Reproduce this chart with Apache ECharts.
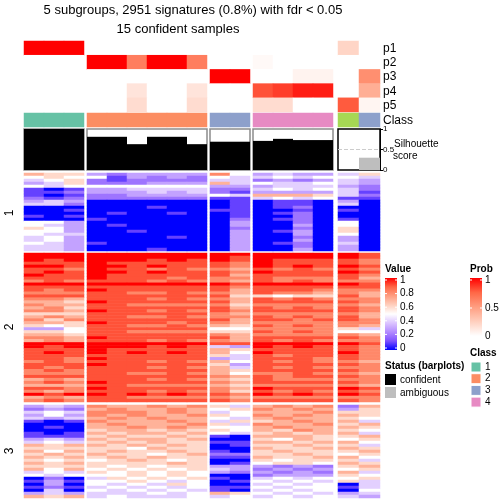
<!DOCTYPE html>
<html><head><meta charset="utf-8">
<script src="https://cdn.jsdelivr.net/npm/echarts/dist/echarts.min.js"></script>
<style>html,body{margin:0;padding:0;background:#fff}#c{width:504px;height:504px}</style>
</head><body><div id="c"></div><script>
// ---------------- data ----------------
const titleLine1 = '5 subgroups, 2951 signatures (0.8%) with fdr < 0.05';
const titleLine2 = '15 confident samples';
const groupSizes = [3, 6, 2, 4, 2];           // columns per column group (last = ambiguous)
const sampleClass = [1,1,1, 2,2,2,2,2,2, 3,3, 4,4,4,4, 5,3];
const probNames = ['p1','p2','p3','p4','p5'];
const p1 = [1,1,1, 0,0,0,0,0,0, 0,0, 0,0,0,0, 0.22,0];
const p2 = [0,0,0, 1,1,0.65,1,1,0.65, 0,0, 0.03,0,0,0, 0,0];
const p3 = [0,0,0, 0,0,0,0,0,0, 1,1, 0,0,0.06,0.06, 0,0.57];
const p4 = [0,0,0, 0,0,0.14,0,0,0.14, 0,0, 0.8,0.85,0.93,0.93, 0,0.42];
const p5 = [0,0,0, 0,0,0.18,0,0,0.18, 0,0, 0.18,0.18,0,0, 0.78,0.05];
const silhouette = [1,1,1, 0.81,0.81,0.63,0.81,0.81,0.63, 0.69,0.69, 0.71,0.76,0.73,0.73, 0,0.3];
const silStatus = [1,1,1, 1,1,1,1,1,1, 1,1, 1,1,1,1, 0,0]; // 1 confident, 0 ambiguous
const rowSliceNames = ['1','2','3'];
// heatmap values: one string per row, one char per sample; '0'-'9' = d/10, 'A' = 1
const slice1 = [
 '766 323333 85 3433 46',
 '565 513232 54 4545 54',
 '456 212222 44 2323 43',
 '346 222333 74 5445 43',
 '545 555555 33 3444 32',
 '101 334444 22 4545 42',
 '112 333434 21 3333 41',
 '101 223333 54 7776 42',
 '212 222222 11 4545 11',
 '343 000000 01 0110 30',
 '442 000000 01 0110 40',
 '000 000100 01 0120 00',
 '001 000000 11 0010 10',
 '000 010010 01 0120 00',
 '101 000000 01 0020 00',
 '000 100000 02 0120 10',
 '553 000000 03 0020 50',
 '543 010000 03 0030 50',
 '653 000000 02 0020 60',
 '553 001000 03 0130 60',
 '544 000000 03 0030 50',
 '453 000010 03 0020 30',
 '453 000000 03 0030 30',
 '543 100000 03 0120 40',
 '443 000000 03 0020 30',
 '443 000100 03 0030 30'
];
const slice2 = [
 'AAA AAAAAA AA AAAA A9',
 'AAA AAAAAA A9 AAAA A9',
 'A9A AAA9A9 A9 A999 98',
 '999 A99999 98 A999 98',
 'AA9 AA9A99 98 A9A9 A9',
 '998 A99898 87 9898 98',
 '9A9 AA9A99 98 A999 A9',
 'A99 A99999 97 9999 98',
 '999 A99989 88 9888 97',
 '898 999898 87 9898 88',
 'AAA AAAAAA A9 AAAA A9',
 '999 999999 98 9999 99',
 '989 A99999 97 9998 88',
 '888 998898 87 9887 87',
 '999 999999 96 6566 97',
 '887 999898 87 9898 88',
 '776 A99999 97 9999 98',
 '877 998888 86 8888 87',
 '786 999999 97 9898 98',
 '887 A99898 98 9999 98',
 '666 999999 87 8888 87',
 '787 998898 88 9898 97',
 '868 999999 97 9989 98',
 '776 A99989 87 8888 88',
 '656 998898 76 9898 87',
 '335 999999 55 8888 64',
 '665 998888 66 9898 55',
 '776 999999 87 8888 87',
 '887 A99999 97 9999 98',
 '787 999898 87 9898 88',
 'AAA AAAAAA 99 AAAA A9',
 'A9A AAA9A9 43 A9A9 98',
 '999 A99999 76 9999 98',
 '9A9 A9A9A9 75 A999 A8',
 '999 999999 64 9899 98',
 '998 A99999 34 9998 98',
 '898 999898 75 9898 87',
 '999 A99999 63 9999 98',
 '989 999898 74 9898 88',
 '898 999999 76 9999 98',
 '888 998898 75 8898 87',
 '999 999999 87 9899 98',
 '787 999898 76 9888 88',
 '898 A99999 87 9999 98',
 '777 998888 76 8888 87',
 '998 A99999 87 A999 A9',
 '878 999898 86 9898 98',
 'A9A A9A9A9 98 A9A9 A9',
 '787 998888 87 8888 88',
 '898 999999 98 9999 98'
];
const slice3 = [
 '343 877878 64 7878 27',
 '232 787787 56 8787 36',
 '454 888787 45 7778 66',
 '353 878778 65 8787 76',
 '434 787877 54 7877 65',
 '101 877787 46 6787 74',
 '000 787778 64 8778 67',
 '010 778787 55 7877 76',
 '000 677676 65 7687 65',
 '101 767767 54 6767 74',
 '111 676676 10 7776 67',
 '343 767767 00 6576 56',
 '454 676766 11 7767 75',
 '767 767676 01 6676 64',
 '666 665766 00 7667 76',
 '757 676676 10 6766 67',
 '676 766567 22 6676 56',
 '767 676766 11 7667 75',
 '656 567656 00 6566 64',
 '767 666676 01 5665 76',
 '666 656566 33 3232 67',
 '757 565656 43 2323 56',
 '454 656565 32 3232 74',
 '545 556565 00 2333 65',
 '020 465656 10 4545 56',
 '131 556545 01 5454 64',
 '030 545465 00 4545 04',
 '121 454545 11 5455 14',
 '040 545454 10 4545 05',
 '343 444545 76 5454 34',
 '767 454445 45 4545 43'
];
const classColors = ['#66C2A5','#FC8D62','#8DA0CB','#E78AC3','#A6D854'];
const valueColors = ['#0000ff','#7e51ff','#b38bff','#dcc4ff','#ffffff','#ffcfbe','#ff9e81','#ff6746','#ff0000'];
const probColors = ['#ffffff','#ffcfbe','#ff9e81','#ff6746','#ff0000'];
const valueTicks = ['1','0.8','0.6','0.4','0.2','0'];
const probTicks = ['1','0.5','0'];
const classLegend = ['1','2','3','4'];

// ---------------- layout ----------------
const FONT = "'Liberation Sans', Arial, Helvetica, sans-serif";
const colLeft = [24, 87, 210, 253, 338];
const colWidth = [60, 120, 40, 80, 42];
const sliceTop = [173, 253, 405];
const sliceHeight = [78, 149, 93];

function parseRows(rows){
  return rows.map(r => r.replace(/ /g,'').split('').map(ch => ch === 'A' ? 1 : parseInt(ch,10)/10));
}
const slices = [parseRows(slice1), parseRows(slice2), parseRows(slice3)];
const probs = [p1,p2,p3,p4,p5];

const grids=[], xAxes=[], yAxes=[], series=[];
const heatIdx=[], probIdx=[], classIdx=[];
function addGrid(g, x, y){
  grids.push(Object.assign({containLabel:false, show:false}, g));
  const gi = grids.length-1;
  xAxes.push(Object.assign({gridIndex:gi, type:'category', show:false}, x));
  yAxes.push(Object.assign({gridIndex:gi, type:'category', show:false}, y));
  return gi;
}
let start = 0;
groupSizes.forEach((n, g) => {
  const cols = Array.from({length:n}, (_, i) => String(start + i));
  // heatmap slices
  slices.forEach((rows, s) => {
    const gi = addGrid({left:colLeft[g], top:sliceTop[s], width:colWidth[g], height:sliceHeight[s]},
      {data:cols}, {data:rows.map((_, i) => String(i)), inverse:true});
    const data = [];
    rows.forEach((r, ri) => { for (let c=0;c<n;c++) data.push([c, ri, r[start+c]]); });
    heatIdx.push(series.length);
    series.push({type:'heatmap', xAxisIndex:gi, yAxisIndex:gi, data, progressive:0, silent:true,
      itemStyle:{borderWidth:0}, emphasis:{disabled:true}});
  });
  // prob annotations
  {
    const gi = addGrid({left:colLeft[g], top:41, width:colWidth[g], height:71},
      {data:cols}, {data:probNames, inverse:true});
    const data = [];
    probs.forEach((p, pi) => { for (let c=0;c<n;c++) data.push([c, pi, p[start+c]]); });
    probIdx.push(series.length);
    series.push({type:'heatmap', xAxisIndex:gi, yAxisIndex:gi, data, silent:true, emphasis:{disabled:true}});
  }
  // class annotation
  {
    const gi = addGrid({left:colLeft[g], top:113, width:colWidth[g], height:14},
      {data:cols}, {data:['Class']});
    const data = [];
    for (let c=0;c<n;c++) data.push([c, 0, sampleClass[start+c]]);
    classIdx.push(series.length);
    series.push({type:'heatmap', xAxisIndex:gi, yAxisIndex:gi, data, silent:true, emphasis:{disabled:true}});
  }
  // silhouette
  {
    const last = g === groupSizes.length-1;
    const gi = addGrid({left:colLeft[g], top:129, width:colWidth[g], height:41, show:true,
        borderColor: last ? '#000000' : '#8c8c8c', borderWidth:1.5, backgroundColor:'#ffffff'},
      {data:cols, boundaryGap:true},
      {type:'value', min:0, max:1, interval:0.5, show:last, position:'right',
       axisLine:{show:true, lineStyle:{color:'#000', width:1}},
       axisTick:{show:true, length:3, lineStyle:{color:'#000'}},
       axisLabel:{show:true, fontSize:8, color:'#000', margin:3, fontFamily:FONT},
       splitLine:{show:false}});
    const data = [];
    for (let c=0;c<n;c++) data.push({value:silhouette[start+c],
      itemStyle:{color: silStatus[start+c] ? '#000000' : '#bebebe'}});
    const s = {type:'bar', xAxisIndex:gi, yAxisIndex:gi, data, barCategoryGap:'0%', barGap:'0%', silent:true};
    if (last) s.markLine = {silent:true, symbol:'none', label:{show:false},
      lineStyle:{type:'dashed', color:'#cccccc', width:1}, data:[{yAxis:0.5}]};
    series.push(s);
  }
  start += n;
});

// ---------------- text & legends ----------------
const graphic = [];
function txt(text, x, y, o={}){
  graphic.push({type:'text', x, y, rotation:o.rotation||0, silent:true,
    style:{text, fill:'#000', font:`${o.bold?'bold ':''}${o.size||12}px ${FONT}`,
      textAlign:o.align||'left', textVerticalAlign:'middle', verticalAlign:'middle'}});
}
txt(titleLine1, 193, 10, {size:13, align:'center'});
txt(titleLine2, 178, 29, {size:13, align:'center'});
probNames.forEach((p, i) => txt(p, 383, 48.6 + i*14.2, {size:12}));
txt('Class', 383, 121, {size:12});
txt('Silhouette', 394, 144, {size:10});
txt('score', 393, 156, {size:10});
const sliceMid = [213, 327, 451];
rowSliceNames.forEach((r, i) => graphic.push({type:'text', x:10, y:sliceMid[i], rotation:Math.PI/2, silent:true,
  style:{text:r, fill:'#000', font:`12px ${FONT}`, textAlign:'center', textVerticalAlign:'middle', verticalAlign:'middle'}}));

// Value legend
txt('Value', 385, 269, {size:10, bold:true});
graphic.push({type:'rect', shape:{x:385, y:278, width:12, height:72}, silent:true,
  style:{fill:new echarts.graphic.LinearGradient(0,0,0,1,
    valueColors.slice().reverse().map((c,i,a)=>({offset:i/(a.length-1), color:c})))}});
valueTicks.forEach((t,i) => {
  const y = 280 + i*13.6;
  txt(t, 400, y, {size:10});
  graphic.push({type:'line', shape:{x1:385,y1:y,x2:387,y2:y}, style:{stroke:'#fff', lineWidth:1}, silent:true});
  graphic.push({type:'line', shape:{x1:395,y1:y,x2:397,y2:y}, style:{stroke:'#fff', lineWidth:1}, silent:true});
});
// Prob legend
txt('Prob', 470, 269, {size:10, bold:true});
graphic.push({type:'rect', shape:{x:470, y:278, width:12, height:58}, silent:true,
  style:{fill:new echarts.graphic.LinearGradient(0,0,0,1,
    probColors.slice().reverse().map((c,i,a)=>({offset:i/(a.length-1), color:c})))}});
probTicks.forEach((t,i) => {
  const y = 280 + i*28;
  txt(t, 485, y, {size:10});
  graphic.push({type:'line', shape:{x1:470,y1:y,x2:472,y2:y}, style:{stroke:'#fff', lineWidth:1}, silent:true});
  graphic.push({type:'line', shape:{x1:480,y1:y,x2:482,y2:y}, style:{stroke:'#fff', lineWidth:1}, silent:true});
});
// Class legend
txt('Class', 470, 353, {size:10, bold:true});
classLegend.forEach((c,i) => {
  const y = 362 + i*11.7;
  graphic.push({type:'rect', shape:{x:471, y, width:10, height:10}, style:{fill:classColors[i], stroke:'#fff', lineWidth:1}, silent:true});
  txt(c, 485, y+5, {size:10});
});
// Status legend
txt('Status (barplots)', 385, 366, {size:10, bold:true});
graphic.push({type:'rect', shape:{x:385, y:374, width:11, height:11}, style:{fill:'#000000'}, silent:true});
txt('confident', 400, 380, {size:10});
graphic.push({type:'rect', shape:{x:385, y:387, width:11, height:11}, style:{fill:'#bebebe'}, silent:true});
txt('ambiguous', 400, 393, {size:10});

const chart = echarts.init(document.getElementById('c'), null, {renderer:'canvas'});
chart.setOption({
  animation:false,
  backgroundColor:'#ffffff',
  grid:grids, xAxis:xAxes, yAxis:yAxes, series,
  visualMap:[
    {type:'continuous', show:false, min:0, max:1, dimension:2, seriesIndex:heatIdx, inRange:{color:valueColors}},
    {type:'continuous', show:false, min:0, max:1, dimension:2, seriesIndex:probIdx, inRange:{color:probColors}},
    {type:'piecewise', show:false, dimension:2, seriesIndex:classIdx,
      pieces:classColors.map((c,i)=>({value:i+1, color:c}))}
  ],
  graphic
});
</script></body></html>
